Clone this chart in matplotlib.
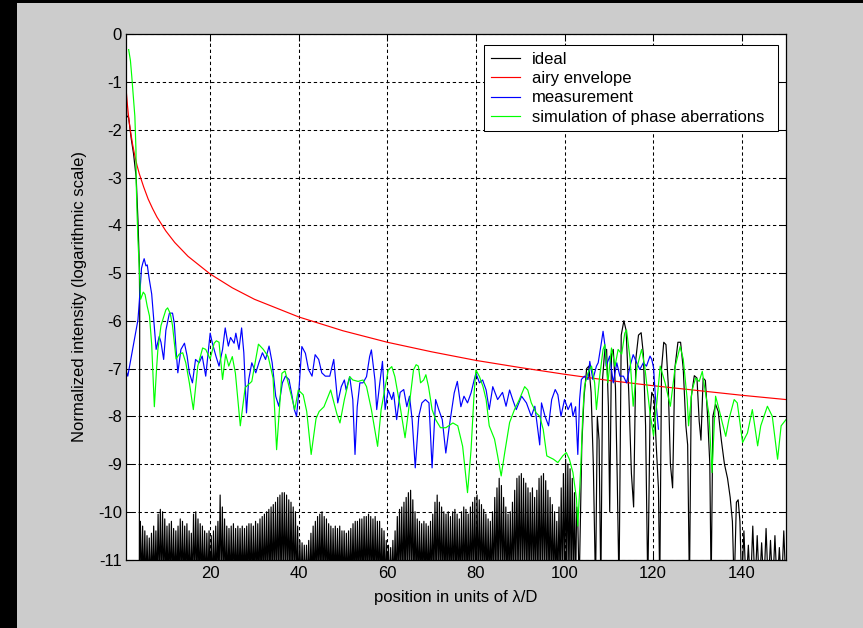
import numpy as np
import matplotlib
matplotlib.use("Agg")
import matplotlib.pyplot as plt
from matplotlib.patches import Rectangle

plt.rcParams['font.family'] = ['Liberation Sans', 'DejaVu Sans']
plt.rcParams['axes.unicode_minus'] = False

# ---------------- data ----------------
# airy envelope (log10 intensity)
airy_x = [1, 1.25, 1.5, 1.75, 2, 2.5, 3, 3.5, 4, 5, 6, 7, 8, 10, 12, 15, 20, 25, 30,
          40, 50, 60, 70, 80, 90, 100, 110, 120, 130, 140, 150]
airy_y = [-1.12, -1.41, -1.65, -1.85, -2.02, -2.31, -2.55, -2.75, -2.92, -3.20, -3.45,
          -3.65, -3.83, -4.12, -4.36, -4.65, -5.02, -5.31, -5.55, -5.92, -6.21, -6.45,
          -6.65, -6.83, -6.98, -7.12, -7.25, -7.36, -7.46, -7.56, -7.65]

# ideal pattern: central lobe flank
ideal_head_x = [1.0, 1.15, 1.6, 2.2, 2.7, 3.3, 3.7, 4.0, 4.1]
ideal_head_y = [-0.5, -1.7, -1.75, -2.2, -2.5, -3.0, -3.9, -4.8, -5.7]
# far-wing maxima, two per lambda/D, from 4.25 up to 102.75
ideal_ring_start = 4.25
ideal_ring_step = 0.5
ideal_ring_peaks = [
    -10.2, -10.3, -10.4, -10.5, -10.55, -10.45, -10.3, -10.4, -10.05, -9.95,
    -10.0, -10.15, -10.3, -10.25, -10.2, -10.35, -10.4, -10.3, -10.15, -10.2,
    -10.3, -10.25, -10.4, -10.45, -10.05, -10.0, -10.15, -10.25, -10.3, -10.4,
    -10.45, -10.4, -10.5, -10.4, -10.3, -10.2, -9.65, -9.9, -10.15, -10.3,
    -10.35, -10.3, -10.25, -10.35, -10.3, -10.35, -10.3, -10.35, -10.3, -10.25,
    -10.25, -10.3, -10.2, -10.25, -10.15, -10.1, -10.05, -10.0, -9.95, -9.9,
    -9.85, -9.8, -9.7, -9.65, -9.6, -9.6, -9.65, -9.75, -9.8, -9.9,
    -10.0, -10.3, -10.6, -10.65, -10.7, -10.7, -10.6, -10.45, -10.3, -10.2,
    -10.1, -10.05, -10.0, -10.1, -10.15, -10.25, -10.3, -10.35, -10.3, -10.35,
    -10.3, -10.4, -10.4, -10.45, -10.4, -10.35, -10.25, -10.2, -10.2, -10.15,
    -10.15, -10.1, -10.1, -10.05, -10.1, -10.15, -10.1, -10.2, -10.2, -10.35,
    -10.4, -10.6, -10.7, -10.75, -10.6, -10.4, -10.1, -9.95, -9.9, -9.8,
    -9.7, -9.6, -9.55, -9.75, -10.0, -10.15, -10.2, -10.25, -10.2, -10.25,
    -10.3, -10.2, -10.05, -9.8, -9.65, -9.8, -9.9, -10.0, -10.05, -10.0,
    -10.1, -10.0, -9.95, -10.05, -10.15, -10.0, -9.9, -9.95, -10.05, -9.9,
    -9.8, -9.7, -9.65, -9.75, -9.85, -9.95, -10.05, -10.15, -10.2, -10.0,
    -9.7, -9.5, -9.3, -9.45, -9.7, -9.9, -10.05, -10.0, -9.8, -9.55,
    -9.3, -9.25, -9.2, -9.3, -9.4, -9.5, -9.6, -9.5, -9.7, -9.55,
    -9.3, -9.25, -9.2, -9.35, -9.55, -9.7, -9.85, -10.0, -10.2, -9.9,
    -9.5, -9.2, -8.9, -9.0, -9.1, -9.3, -9.6, -9.9]
# corrected region of the ideal pattern
ideal_lobe_x = [103.0, 103.3, 103.9, 104.4, 105.0, 105.5, 106.0, 106.5, 107.0, 107.4,
                107.8, 108.2, 108.6, 109.1, 109.5, 109.9, 110.2, 110.6, 111.0, 111.5,
                111.9, 112.3, 112.8, 113.4, 113.9, 114.5, 115.1, 115.6, 116.1, 116.7,
                117.3, 117.8, 118.3, 118.8, 119.3, 119.7, 120.2, 120.7, 121.2, 121.5,
                121.9, 122.4, 122.9, 123.4, 123.9, 124.4, 124.9, 125.6, 126.2, 126.8,
                127.4, 127.8, 128.2, 128.6, 129.3, 129.9, 130.4, 130.8, 131.3, 131.8,
                132.3, 132.8, 133.1, 133.5, 134.1, 134.7, 135.4, 136.1, 136.8, 137.4,
                137.9, 138.3, 138.8, 139.2, 139.6, 140.0]
ideal_lobe_y = [-10.2, -11.6, -8.6, -7.6, -7.0, -6.95, -7.5, -9.0, -11.6, -8.0,
                -8.5, -11.6, -7.2, -6.6, -6.6, -7.8, -10.0, -6.7, -6.6, -7.4,
                -9.3, -11.6, -6.3, -6.0, -6.2, -7.5, -9.2, -9.9, -6.8, -6.3,
                -6.25, -6.7, -8.2, -11.6, -8.0, -7.5, -7.6, -8.6, -9.5, -11.6,
                -7.0, -6.45, -6.5, -7.3, -9.0, -9.5, -7.0, -6.45, -6.45, -7.0,
                -8.2, -8.6, -11.6, -7.6, -7.15, -7.2, -8.1, -8.5, -7.2, -7.25,
                -8.0, -9.0, -11.6, -8.0, -7.75, -7.9, -8.5, -9.0, -9.3, -9.7,
                -10.2, -11.6, -9.8, -9.75, -10.2, -11.6]
# outer rings beyond the corrected region
ideal_tail_start = 140.5
ideal_tail_peaks = [-10.4, -10.7, -10.3, -10.5, -10.65, -10.35, -10.6, -10.5, -10.75, -10.4]
ideal_floor = -11.6  # ring minima fall below the plotted range

meas_x = [1.0, 1.4, 2.5, 3.7, 4.0, 4.5, 4.8, 5.1, 5.5, 5.8, 6.2, 6.8, 7.4, 7.8, 8.5, 8.9,
          9.5, 10.0, 10.8, 11.5, 11.9, 12.3, 12.7, 13.4, 14.2, 14.8, 15.3, 16.0, 16.7,
          17.5, 18.2, 19.0, 20.0, 20.5, 21.3, 22.0, 22.8, 23.4, 24.1, 24.6, 25.4, 25.8,
          26.5, 27.1, 27.6, 28.2, 28.7, 29.4, 30.3, 31.0, 31.8, 32.5, 33.3, 34.0, 34.8,
          35.5, 36.3, 37.0, 37.8, 38.5, 39.0, 39.5, 40.0, 40.4, 40.7, 41.5, 42.2, 43.0,
          43.7, 44.5, 45.2, 46.0, 47.0, 47.9, 48.8, 49.6, 50.3, 50.7, 51.5, 52.2, 52.7,
          53.2, 53.8, 54.5, 55.3, 56.0, 56.4, 57.2, 57.6, 58.3, 58.9, 59.5, 60.2, 61.0,
          61.4, 62.1, 62.9, 63.7, 64.4, 65.0, 65.6, 66.3, 67.1, 67.8, 68.6, 69.4, 70.1,
          70.9, 71.6, 72.4, 73.2, 74.0, 75.1, 75.8, 76.6, 77.3, 78.1, 78.9, 79.6, 80.0,
          80.8, 81.5, 82.3, 83.0, 83.8, 84.9, 86.0, 86.8, 87.6, 88.3, 89.1, 90.3, 91.4,
          92.5, 93.3, 94.4, 94.8, 95.6, 96.4, 97.1, 97.9, 98.5, 99.2, 100.0, 100.8,
          101.5, 101.9, 102.5, 103.0, 103.4, 103.8, 104.5, 105.3, 105.7, 106.4, 107.2,
          107.6, 108.3, 108.7, 109.1, 109.4, 110.2, 111.0, 111.8, 112.5, 113.3, 114.0,
          114.8, 115.5, 116.3, 117.0, 117.8, 118.5, 119.3, 119.7, 120.1, 120.5, 120.8,
          121.2]
meas_y = [-7.05, -7.16, -6.6, -5.98, -5.6, -4.9, -4.79, -4.7, -4.85, -4.83, -5.1, -5.44,
          -6.12, -6.6, -6.33, -6.45, -6.81, -6.2, -5.84, -5.84, -6.05, -6.6, -7.09, -6.6,
          -6.47, -6.74, -7.09, -7.3, -6.81, -6.88, -6.74, -7.16, -6.26, -6.47, -6.74,
          -6.95, -6.6, -6.15, -6.53, -6.35, -6.47, -6.26, -6.6, -6.15, -6.67, -7.93,
          -7.23, -6.88, -7.09, -6.88, -6.67, -6.81, -6.53, -6.88, -7.58, -7.79, -7.3,
          -7.16, -7.23, -7.58, -7.86, -8.0, -7.5, -6.95, -6.54, -6.68, -7.02, -7.16,
          -6.71, -6.81, -7.09, -7.16, -7.16, -6.81, -7.72, -7.38, -7.24, -7.45, -7.17,
          -7.65, -8.8, -7.8, -7.3, -7.3, -7.17, -6.75, -6.61, -7.24, -7.86, -7.3, -6.85,
          -7.86, -7.45, -7.65, -7.5, -8.07, -7.5, -7.44, -7.8, -7.58, -8.07, -9.08,
          -8.0, -7.72, -7.65, -7.72, -9.08, -7.65, -7.86, -8.07, -8.77, -8.2, -7.51,
          -7.27, -7.8, -7.58, -7.72, -7.51, -7.24, -7.1, -7.3, -7.24, -7.45, -7.86,
          -7.38, -7.65, -7.5, -7.79, -7.45, -7.65, -7.86, -7.58, -7.72, -8.0, -7.79,
          -8.6, -7.72, -8.0, -8.2, -7.65, -7.44, -7.55, -8.0, -7.65, -7.86, -7.72,
          -8.0, -7.8, -8.8, -7.65, -7.23, -7.16, -7.23, -6.85, -7.23, -6.95, -6.88,
          -6.47, -6.22, -6.5, -6.95, -6.74, -7.3, -6.88, -7.16, -7.16, -7.3, -6.95,
          -6.71, -6.88, -7.02, -6.88, -6.95, -6.74, -6.81, -6.98, -7.58, -7.86, -8.27]

sim_x = [1.6, 2.0, 2.3, 2.6, 3.0, 3.25, 3.3, 3.5, 3.7, 4.0, 4.3, 4.9, 5.3, 5.8, 6.3,
         6.8, 7.4, 7.9, 8.2, 8.9, 10.0, 10.4, 11.0, 11.5, 12.3, 13.0, 13.8, 14.5, 15.3,
         16.2, 17.2, 18.3, 19.0, 20.0, 20.9, 21.4, 22.0, 22.8, 23.5, 24.2, 25.0, 25.7,
         26.8, 27.9, 29.4, 30.9, 32.0, 33.1, 34.2, 35.0, 36.2, 36.9, 37.6, 39.1, 39.9,
         41.0, 41.8, 42.8, 43.9, 44.6, 45.7, 47.2, 48.6, 49.3, 50.3, 51.5, 52.2, 53.4,
         54.5, 55.3, 56.4, 57.8, 58.6, 59.4, 60.2, 61.0, 61.7, 62.9, 64.0, 65.1, 65.9,
         66.5, 67.0, 67.5, 68.2, 68.7, 69.3, 70.1, 70.9, 72.0, 73.2, 74.8, 75.9, 77.0,
         78.1, 78.9, 79.6, 80.0, 80.8, 81.6, 82.3, 83.0, 84.2, 84.9, 85.7, 86.5, 87.6,
         88.7, 89.8, 91.0, 91.7, 92.5, 93.6, 94.4, 95.2, 96.0, 97.5, 98.5, 99.6, 100.4,
         101.1, 101.9, 102.7, 103.0, 103.7, 104.1, 104.5, 105.3, 106.1, 106.8, 107.2,
         107.9, 108.7, 109.1, 109.8, 110.6, 111.4, 112.1, 112.9, 113.6, 114.0, 114.8,
         115.5, 116.3, 117.4, 118.1, 119.3, 120.1, 120.9, 121.6, 122.7, 123.9, 125.0,
         126.1, 126.8, 127.7, 128.0, 128.8, 129.6, 130.4, 131.1, 131.8, 132.6, 133.3,
         134.1, 134.9, 135.6, 136.4, 137.1, 138.3, 139.0, 140.2, 141.3, 142.4, 143.6,
         144.3, 145.8, 146.9, 148.1, 148.9, 150.0]
sim_y = [-0.32, -0.55, -0.88, -1.25, -1.72, -2.42, -3.1, -3.76, -4.32, -4.9, -5.55,
         -5.4, -5.45, -5.7, -5.9, -6.5, -7.8, -7.0, -6.6, -6.1, -5.77, -5.73, -5.85,
         -6.1, -6.8, -6.7, -6.67, -6.88, -7.3, -7.86, -6.95, -6.57, -6.6, -6.8, -6.47,
         -6.42, -6.45, -7.23, -6.7, -6.95, -6.75, -7.1, -8.2, -7.4, -7.27, -6.49, -6.6,
         -6.75, -7.2, -8.7, -7.1, -7.05, -7.3, -7.86, -7.45, -7.55, -7.9, -8.8, -8.05,
         -7.9, -7.8, -7.45, -7.95, -8.14, -7.65, -7.17, -7.24, -7.27, -7.24, -7.38,
         -7.86, -8.63, -7.86, -7.45, -7.03, -6.96, -7.17, -7.8, -8.45, -7.65, -7.03,
         -6.92, -6.95, -7.3, -7.24, -7.13, -7.38, -7.86, -8.07, -8.24, -8.24, -8.14,
         -8.2, -8.63, -9.6, -8.7, -7.5, -7.03, -7.17, -7.38, -7.65, -8.2, -8.48, -8.83,
         -9.25, -8.76, -8.13, -7.86, -7.65, -7.38, -7.45, -7.72, -7.93, -8.0, -8.28,
         -8.83, -8.9, -8.97, -8.83, -8.76, -8.9, -9.18, -9.73, -10.3, -9.0, -8.0, -7.37,
         -7.09, -6.95, -7.3, -7.86, -7.2, -6.6, -6.5, -7.3, -6.57, -6.95, -6.6, -6.7,
         -6.26, -6.19, -6.8, -7.79, -7.0, -6.6, -6.95, -7.93, -8.41, -7.65, -6.95, -7.3,
         -7.79, -6.95, -6.54, -6.8, -7.65, -8.2, -7.45, -7.2, -7.27, -7.06, -7.5, -7.95,
         -9.18, -7.58, -7.86, -8.13, -8.42, -8.07, -7.65, -7.72, -8.55, -8.35, -7.86,
         -8.62, -8.2, -7.79, -8.0, -8.9, -8.2, -8.07]

x_ticks = [20, 40, 60, 80, 100, 120, 140]
y_ticks = [0, -1, -2, -3, -4, -5, -6, -7, -8, -9, -10, -11]

# ---------------- assemble the ideal curve ----------------
ideal_x = list(ideal_head_x)
ideal_y = list(ideal_head_y)
for i, peak in enumerate(ideal_ring_peaks):
    px = ideal_ring_start + i * ideal_ring_step
    ideal_x += [px - ideal_ring_step / 2, px]
    ideal_y += [ideal_floor, peak]
ideal_x += ideal_lobe_x
ideal_y += ideal_lobe_y
for i, peak in enumerate(ideal_tail_peaks):
    px = ideal_tail_start + i
    ideal_x += [px, px + 0.5]
    ideal_y += [peak, ideal_floor]

# ---------------- figure ----------------
W, H = 863, 628
FS = 12
fig = plt.figure(figsize=(W / 100, H / 100), dpi=100, facecolor='#cccccc')
# dark window border along the left and top edges
fig.patches.append(Rectangle((0, 0), 17 / W, 1, transform=fig.transFigure,
                             facecolor='black', edgecolor='none', zorder=0))
fig.patches.append(Rectangle((0, 1 - 3 / H), 1, 3 / H, transform=fig.transFigure,
                             facecolor='black', edgecolor='none', zorder=0))

ax = fig.add_axes([126 / W, 1 - 559.5 / H, 660 / W, 525.2 / H])
ax.set_facecolor('white')

lw = 0.85
ax.plot(ideal_x, ideal_y, color='black', lw=lw, label='ideal')
ax.plot(airy_x, airy_y, color='#ff0000', lw=lw, label='airy envelope')
ax.plot(meas_x, meas_y, color='#0000ff', lw=lw, label='measurement')
ax.plot(sim_x, sim_y, color='#00ff00', lw=lw, label='simulation of phase aberrations')

ax.set_xlim(1, 150)
ax.set_ylim(-11, 0)
ax.set_xticks(x_ticks)
ax.set_yticks(y_ticks)
ax.tick_params(direction='in', length=5, width=0.75, top=True, right=True,
               labelsize=FS, colors='black', pad=3)
ax.tick_params(axis='x', pad=5)
for s in ax.spines.values():
    s.set_linewidth(0.9)
    s.set_color('black')
ax.grid(True, color='black', linestyle=(0, (3.2, 2.6)), linewidth=0.75)

ax.set_xlabel('position in units of λ/D', fontsize=FS, labelpad=6)
ax.set_ylabel('Normalized intensity (logarithmic scale)', fontsize=FS)
ax.yaxis.set_label_coords((87 - 126) / 660, 0.5)

leg_top = 1 - (45 - 34.3) / 525.2
leg = ax.legend(loc='upper left',
                bbox_to_anchor=((484 - 126) / 660, 0.5, (778 - 484) / 660, leg_top - 0.5),
                mode='expand', fontsize=FS, frameon=True, fancybox=False, framealpha=1,
                edgecolor='black', borderpad=0.4, handlelength=1.75,
                handletextpad=0.7, labelspacing=0.26, borderaxespad=0)
leg.get_frame().set_linewidth(0.75)

fig.savefig('out.png', dpi=100, facecolor=fig.get_facecolor())
